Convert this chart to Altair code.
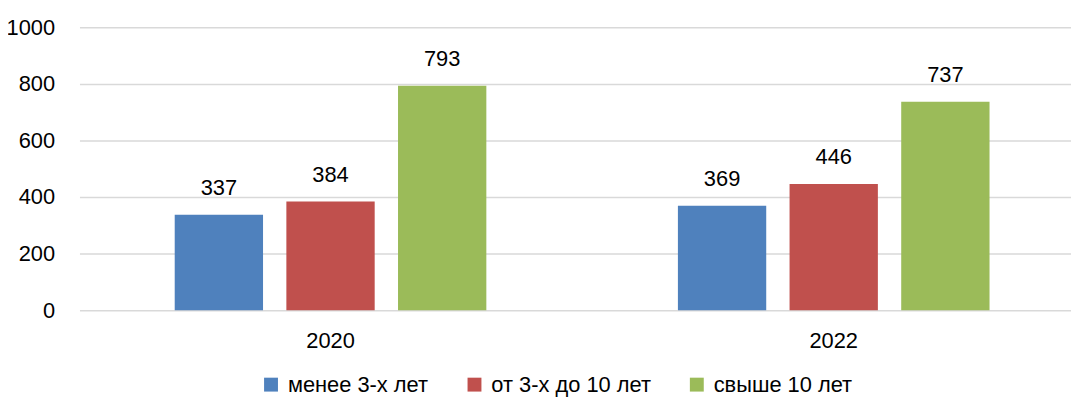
import altair as alt
import pandas as pd

years = ["2020", "2022"]
groups = ["менее 3-х лет", "от 3-х до 10 лет", "свыше 10 лет"]
values_2020 = [337, 384, 793]
values_2022 = [369, 446, 737]
colors = ["#4F81BD", "#C0504D", "#9BBB59"]
y_ticks = [0, 200, 400, 600, 800, 1000]

rows = []
for yr, vals in zip(years, [values_2020, values_2022]):
    for g, v in zip(groups, vals):
        rows.append({"year": yr, "group": g, "value": v})
df = pd.DataFrame(rows)

FONT = "Liberation Sans, Arial, sans-serif"
FS = 22

x = alt.X("year:N", sort=years, title=None,
          scale=alt.Scale(paddingInner=0.3807, paddingOuter=0.1756, align=0.539),
          axis=alt.Axis(labelAngle=0, domain=False, ticks=False, labelPadding=21,
                        labelFont=FONT, labelFontSize=FS, labelColor="#000000"))
xo = alt.XOffset("group:N", sort=groups,
                 scale=alt.Scale(paddingInner=0.209, paddingOuter=0))
y = alt.Y("value:Q", title=None,
          scale=alt.Scale(domain=[0, 1000], nice=False),
          axis=alt.Axis(values=y_ticks, format="d", domain=False, ticks=False,
                        labelPadding=25, labelLimit=200,
                        labelFont=FONT, labelFontSize=FS, labelColor="#000000",
                        gridColor="#D9D9D9", gridWidth=1.5))

bars = alt.Chart(df).mark_bar().encode(
    x=x, xOffset=xo, y=y,
    color=alt.Color("group:N", sort=groups,
                    scale=alt.Scale(domain=groups, range=colors),
                    legend=alt.Legend(title=None, orient="none", direction="horizontal",
                                      legendX=182, legendY=349,
                                      symbolType="square", symbolSize=196,
                                      symbolStrokeWidth=0, symbolOffset=0,
                                      labelFont=FONT, labelFontSize=FS,
                                      labelLimit=400,
                                      labelColor="#000000", columnPadding=35,
                                      labelOffset=6)),
)

labels = alt.Chart(df).mark_text(baseline="middle", dy=-27, font=FONT,
                                 fontSize=FS, color="#000000").encode(
    x=x, xOffset=xo, y=y, text=alt.Text("value:Q"),
)

chart = (bars + labels).properties(
    width=999, height=285,
    autosize=alt.AutoSizeParams(type="none"),
    padding={"left": 72, "top": 18, "right": 0, "bottom": 86},
).configure_view(stroke=None).configure_axis(grid=True).configure_axisX(grid=False)

chart.save("out.html", embed_options={"renderer": "svg", "actions": False})
